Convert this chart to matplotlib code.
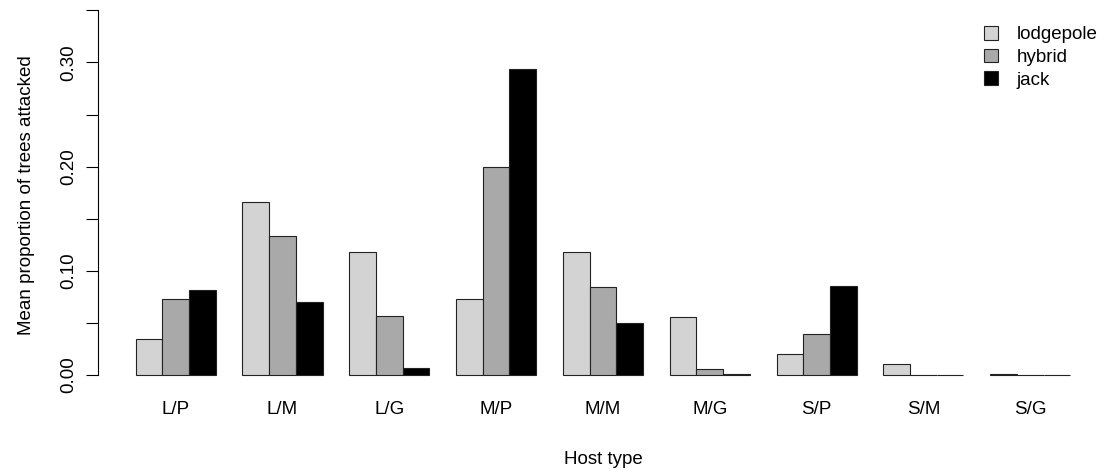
import numpy as np
import matplotlib.pyplot as plt

plt.rcParams['font.family'] = ['Liberation Sans', 'DejaVu Sans']

host_types = ['L/P', 'L/M', 'L/G', 'M/P', 'M/M', 'M/G', 'S/P', 'S/M', 'S/G']
species = ['lodgepole', 'hybrid', 'jack']
lodgepole = [0.035, 0.166, 0.118, 0.073, 0.118, 0.056, 0.020, 0.011, 0.001]
hybrid = [0.073, 0.133, 0.057, 0.200, 0.084, 0.006, 0.039, 0.0, 0.0]
jack = [0.082, 0.070, 0.007, 0.294, 0.050, 0.001, 0.085, 0.0, 0.0]
colors = ['#d3d3d3', '#a9a9a9', '#000000']

W, H = 1107, 471
fig = plt.figure(figsize=(W / 100, H / 100), dpi=100)
# plot region in pixels (left, bottom, right, top)
ax = fig.add_axes([98.3 / W, (H - 389.6) / H, 1009.3 / W, 389.6 / H])

# R-style beside barplot: bars of width 1, one unit gap between groups
series = [lodgepole, hybrid, jack]
groups = np.arange(len(host_types))
for k, (vals, col, name) in enumerate(zip(series, colors, species)):
    x = 1 + 4 * groups + k + 0.5
    ax.bar(x, vals, width=1.0, color=col, edgecolor='#222222', linewidth=0.8,
           label=name)

ax.set_xlim(-0.4, 37.4)
ax.set_ylim(-0.014, 0.3599)

for s in ['top', 'right', 'bottom']:
    ax.spines[s].set_visible(False)
ax.spines['left'].set_bounds(0, 0.35)
ax.spines['left'].set_linewidth(0.8)

yt = np.arange(0, 0.351, 0.05)
ax.set_yticks(yt)
ax.set_yticklabels(['0.00', '', '0.10', '', '0.20', '', '0.30', ''],
                   rotation=90, va='center', fontsize=13.5)
ax.tick_params(axis='y', length=9, width=0.8, pad=6)

ax.set_xticks(1 + 4 * groups + 1.5)
ax.set_xticklabels(host_types, fontsize=13.5)
ax.tick_params(axis='x', length=0, pad=8)

ax.set_ylabel('Mean proportion of trees attacked', fontsize=13.5, labelpad=18)
ax.set_xlabel('Host type', fontsize=13.5, labelpad=24)

ax.legend(loc='upper left', bbox_to_anchor=(984 / W, 1 - 26 / H),
          bbox_transform=fig.transFigure, frameon=False, fontsize=13.5,
          handlelength=0.75, handleheight=0.75, handletextpad=1.0,
          labelspacing=0.28, borderpad=0, borderaxespad=0)

fig.savefig('out.png', dpi=100)
